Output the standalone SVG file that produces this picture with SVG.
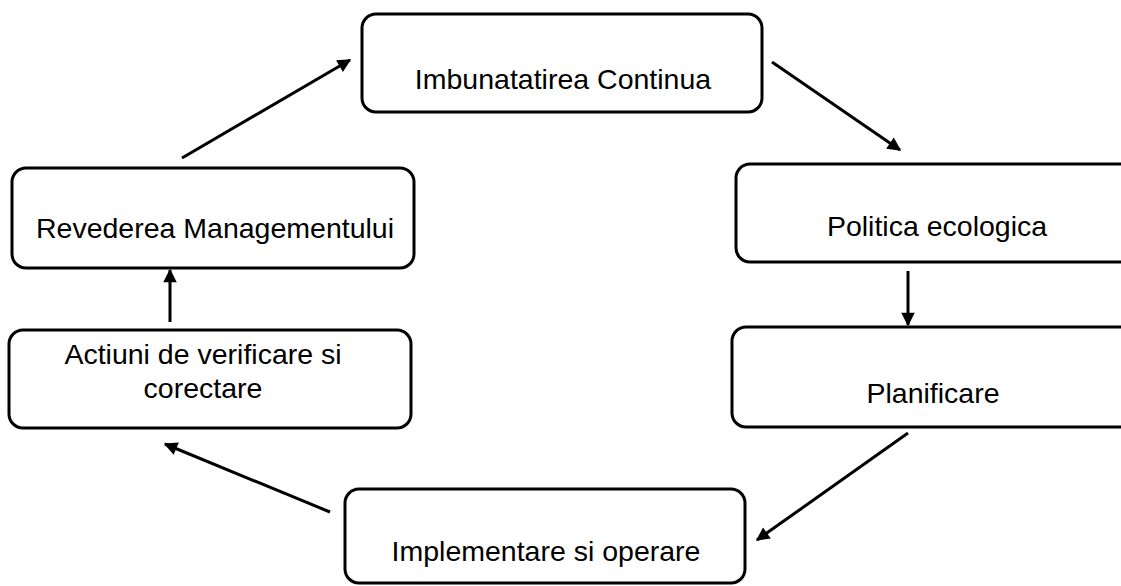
<svg xmlns="http://www.w3.org/2000/svg" width="1121" height="586" viewBox="0 0 1121 586">
<defs>
<style>
.box{fill:#fff;stroke:#000;stroke-width:3}
.lbl{font-family:"Liberation Sans",Arial,sans-serif;font-size:28.5px;fill:#000;text-anchor:middle}
.con{stroke:#000;stroke-width:3;fill:none;marker-end:url(#ah)}
</style>
<marker id="ah" viewBox="0 0 10 10" refX="9" refY="5" markerWidth="5" markerHeight="4.5" orient="auto" markerUnits="strokeWidth">
<path d="M0,0 L10,5 L0,10 Z" fill="#000"/>
</marker>
</defs>
<rect width="1121" height="586" fill="#fff"/>
<g id="n1"><rect class="box" x="362" y="14" width="400" height="98" rx="14"/><text class="lbl" x="563" y="89">Imbunatatirea Continua</text></g>
<g id="n2"><rect class="box" x="736" y="164" width="410" height="98" rx="14"/><text class="lbl" x="937" y="236">Politica ecologica</text></g>
<g id="n3"><rect class="box" x="732" y="327" width="414" height="100" rx="14"/><text class="lbl" x="933" y="403">Planificare</text></g>
<g id="n4"><rect class="box" x="345" y="489" width="400" height="94" rx="14"/><text class="lbl" x="546" y="561">Implementare si operare</text></g>
<g id="n5"><rect class="box" x="12" y="168" width="402" height="100" rx="14"/><text class="lbl" x="215" y="238">Revederea Managementului</text></g>
<g id="n6"><rect class="box" x="9" y="330" width="402" height="98" rx="14"/><text class="lbl" x="203" y="364">Actiuni de verificare si</text><text class="lbl" x="203" y="398">corectare</text></g>
<g id="connectors">
<line class="con" x1="182" y1="158" x2="350" y2="60"/>
<line class="con" x1="772" y1="62" x2="900" y2="150"/>
<line class="con" x1="908" y1="271" x2="908" y2="325"/>
<line class="con" x1="908" y1="433" x2="757" y2="540"/>
<line class="con" x1="330" y1="512" x2="165" y2="444"/>
<line class="con" x1="170" y1="322" x2="170" y2="270"/>
</g>
</svg>
